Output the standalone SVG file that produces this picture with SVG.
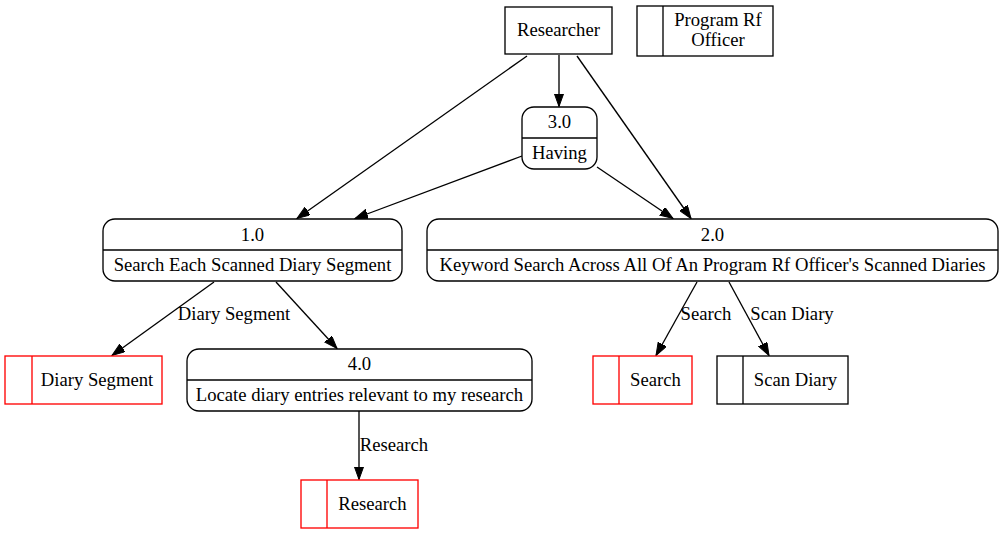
<svg xmlns="http://www.w3.org/2000/svg" width="1005" height="535" viewBox="0 0 1005 535">
<style>
text{font-family:"Liberation Serif","Times New Roman",Times,serif;font-size:18.67px;fill:#000;text-anchor:middle}
.b{fill:#fff;stroke:#000;stroke-width:1.33}
.r{fill:#fff;stroke:#f00;stroke-width:1.33}
.rl{stroke:#f00;stroke-width:1.33}
.bl{stroke:#000;stroke-width:1.33}
.e{fill:none;stroke:#000;stroke-width:1.33}
</style>
<defs>
<marker id="a" markerWidth="14" markerHeight="10" refX="13" refY="4.7" orient="auto" markerUnits="userSpaceOnUse">
<path d="M0,0 L13,4.7 L0,9.4 Z" fill="#000" stroke="#000" stroke-width="1"/>
</marker>
</defs>
<rect width="1005" height="535" fill="#fff"/>
<g id="connectors">
<path class="e" d="M527,56 L297,218.5" marker-end="url(#a)"/>
<path class="e" d="M559,55 L559,106.5" marker-end="url(#a)"/>
<path class="e" d="M577,56 L691,218.5" marker-end="url(#a)"/>
<path class="e" d="M522,156 L355,218.5" marker-end="url(#a)"/>
<path class="e" d="M597,167 L673,218.5" marker-end="url(#a)"/>
<path class="e" d="M214,282 L112,355.5" marker-end="url(#a)"/>
<path class="e" d="M276,282 L337,348.5" marker-end="url(#a)"/>
<path class="e" d="M697,282 L656,355.5" marker-end="url(#a)"/>
<path class="e" d="M729,282 L769,355.5" marker-end="url(#a)"/>
<path class="e" d="M359,411 L359,479.5" marker-end="url(#a)"/>
<text x="234" y="320">Diary Segment</text>
<text x="706" y="320">Search</text>
<text x="792" y="320">Scan Diary</text>
<text x="394" y="451">Research</text>
</g>
<g id="researcher">
<rect class="b" x="505" y="7" width="107" height="47"/>
<text x="558.5" y="36">Researcher</text>
</g>
<g id="program-rf-officer">
<rect class="b" x="637" y="6" width="136" height="50"/>
<line class="bl" x1="663" y1="6" x2="663" y2="56"/>
<text x="718" y="26">Program Rf</text>
<text x="718" y="46">Officer</text>
</g>
<g id="p3">
<rect class="b" x="522" y="107" width="75" height="62" rx="12"/>
<line class="bl" x1="522" y1="138" x2="597" y2="138"/>
<text x="559.5" y="128">3.0</text>
<text x="559.5" y="159">Having</text>
</g>
<g id="p1">
<rect class="b" x="103" y="219" width="299" height="62" rx="12"/>
<line class="bl" x1="103" y1="250" x2="402" y2="250"/>
<text x="252.5" y="241">1.0</text>
<text x="252.5" y="271">Search Each Scanned Diary Segment</text>
</g>
<g id="p2">
<rect class="b" x="427" y="219" width="571" height="62" rx="12"/>
<line class="bl" x1="427" y1="250" x2="998" y2="250"/>
<text x="712.5" y="241">2.0</text>
<text x="712.5" y="271">Keyword Search Across All Of An Program Rf Officer's Scanned Diaries</text>
</g>
<g id="p4">
<rect class="b" x="187" y="349" width="345" height="62" rx="12"/>
<line class="bl" x1="187" y1="380" x2="532" y2="380"/>
<text x="359.5" y="370">4.0</text>
<text x="359.5" y="401">Locate diary entries relevant to my research</text>
</g>
<g id="ds-diary-segment">
<rect class="r" x="5" y="356" width="157" height="48"/>
<line class="rl" x1="32" y1="356" x2="32" y2="404"/>
<text x="97" y="386">Diary Segment</text>
</g>
<g id="ds-search">
<rect class="r" x="593" y="356" width="99" height="48"/>
<line class="rl" x1="619" y1="356" x2="619" y2="404"/>
<text x="655.5" y="386">Search</text>
</g>
<g id="ds-scan-diary">
<rect class="b" x="717" y="356" width="131" height="48"/>
<line class="bl" x1="743" y1="356" x2="743" y2="404"/>
<text x="795.5" y="386">Scan Diary</text>
</g>
<g id="ds-research">
<rect class="r" x="301" y="480" width="117" height="48"/>
<line class="rl" x1="327" y1="480" x2="327" y2="528"/>
<text x="372.5" y="510">Research</text>
</g>
</svg>
